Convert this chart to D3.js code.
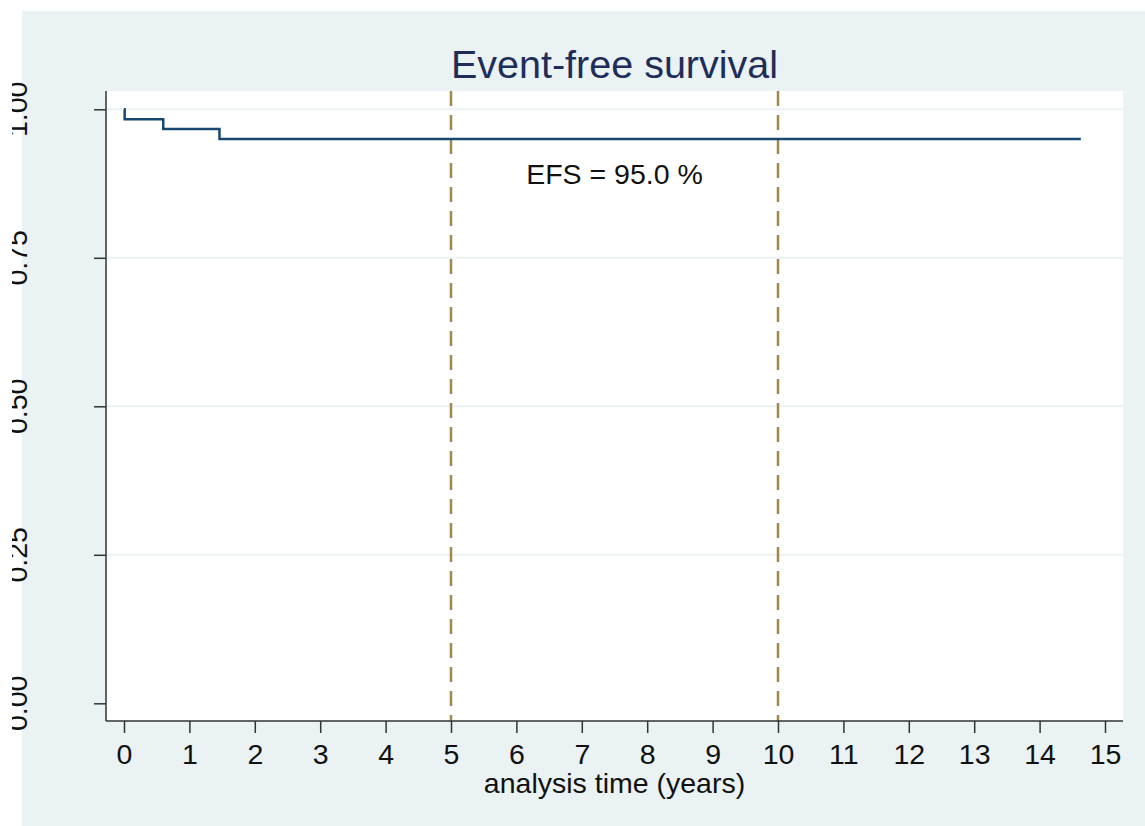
<!DOCTYPE html>
<html>
<head>
<meta charset="utf-8">
<script src="https://cdn.jsdelivr.net/npm/d3@7"></script>
<style>
  body { margin: 0; background: #ffffff; }
  text { font-family: "Liberation Sans", Arial, sans-serif; }
</style>
</head>
<body>
<div id="chart"></div>
<script>
// Kaplan-Meier step values
const times = [0, 0.01, 0.60, 1.46, 14.63];
const survival = [1.00, 0.9833, 0.9667, 0.95, 0.95];
const xTicks = d3.range(0, 16);
const yTicks = [0, 0.25, 0.5, 0.75, 1];
const refLines = [5, 10];
const title = "Event-free survival";
const xTitle = "analysis time (years)";
const note = { x: 7.5, y: 0.874, text: "EFS = 95.0 %" };

const width = 1145, height = 826;
const plot = { left: 106, right: 1123, top: 91, bottom: 721 };

const svg = d3.select("#chart").append("svg")
  .attr("width", width)
  .attr("height", height);

// outer background
svg.append("rect")
  .attr("x", 22).attr("y", 11)
  .attr("width", width - 22).attr("height", height - 11)
  .attr("fill", "#eaf2f3");

// plot area
svg.append("rect")
  .attr("x", plot.left).attr("y", plot.top)
  .attr("width", plot.right - plot.left).attr("height", plot.bottom - plot.top)
  .attr("fill", "#ffffff");

var xScale = d3.scaleLinear().domain([0, 15]).range([124, 1105]);
var yScale = d3.scaleLinear().domain([0, 1]).range([703.3, 109.3]);

// gridlines (none at zero)
svg.append("g").selectAll("line")
  .data(yTicks.filter(d => d > 0))
  .join("line")
  .attr("x1", plot.left).attr("x2", plot.right)
  .attr("y1", d => yScale(d)).attr("y2", d => yScale(d))
  .attr("stroke", "#eaf2f3")
  .attr("stroke-width", 2);

// dashed reference lines
svg.append("g").selectAll("line")
  .data(refLines)
  .join("line")
  .attr("x1", d => xScale(d)).attr("x2", d => xScale(d))
  .attr("y1", plot.top).attr("y2", plot.bottom)
  .attr("stroke", "#a3884a")
  .attr("stroke-width", 2.5)
  .attr("stroke-dasharray", "15,9");

// survival curve
var line = d3.line()
  .x(d => xScale(d[0]))
  .y(d => yScale(d[1]))
  .curve(d3.curveStepAfter);

svg.append("path")
  .datum(times.map((t, i) => [t, survival[i]]))
  .attr("d", line)
  .attr("fill", "none")
  .attr("stroke", "#1a476f")
  .attr("stroke-width", 2.5);

// x axis
var xAxis = svg.append("g")
  .attr("transform", "translate(0," + plot.bottom + ")")
  .call(d3.axisBottom(xScale).tickValues(xTicks).tickFormat(d3.format("d"))
    .tickSize(12).tickSizeOuter(0).tickPadding(11));
xAxis.select(".domain").remove();
xAxis.append("line")
  .attr("x1", plot.left).attr("x2", plot.right)
  .attr("stroke", "#333").attr("stroke-width", 1.5);
xAxis.selectAll(".tick line").attr("stroke", "#333").attr("stroke-width", 1.5);
xAxis.selectAll(".tick text")
  .attr("font-size", 28.5).attr("fill", "#111")
  .attr("font-family", "Liberation Sans, Arial, sans-serif");

// y axis
var yAxis = svg.append("g")
  .attr("transform", "translate(" + plot.left + ",0)")
  .call(d3.axisLeft(yScale).tickValues(yTicks).tickSize(12).tickSizeOuter(0).tickFormat(() => ""));
yAxis.select(".domain").remove();
yAxis.append("line")
  .attr("y1", plot.top).attr("y2", plot.bottom)
  .attr("stroke", "#333").attr("stroke-width", 1.5);
yAxis.selectAll(".tick line").attr("stroke", "#333").attr("stroke-width", 1.5);

// y tick labels, rotated and clipped at the left like the original
svg.append("clipPath").attr("id", "ylabclip")
  .append("rect").attr("x", 12).attr("y", 0).attr("width", 100).attr("height", height);

svg.append("g").attr("clip-path", "url(#ylabclip)")
  .selectAll("text")
  .data(yTicks)
  .join("text")
  .attr("transform", d => "translate(27," + yScale(d) + ") rotate(-90)")
  .attr("text-anchor", "middle")
  .attr("font-size", 28.5)
  .attr("fill", "#111")
  .text(d3.format(".2f"));

// title
svg.append("text")
  .attr("x", (plot.left + plot.right) / 2)
  .attr("y", 77.5)
  .attr("text-anchor", "middle")
  .attr("font-size", 39.5)
  .attr("fill", "#1e2d5a")
  .text(title);

// x axis title
svg.append("text")
  .attr("x", (plot.left + plot.right) / 2)
  .attr("y", 793)
  .attr("text-anchor", "middle")
  .attr("font-size", 28.5)
  .attr("fill", "#111")
  .text(xTitle);

// EFS annotation
svg.append("text")
  .attr("x", xScale(note.x))
  .attr("y", yScale(note.y))
  .attr("text-anchor", "middle")
  .attr("font-size", 28.5)
  .attr("fill", "#111")
  .text(note.text);
</script>
</body>
</html>
